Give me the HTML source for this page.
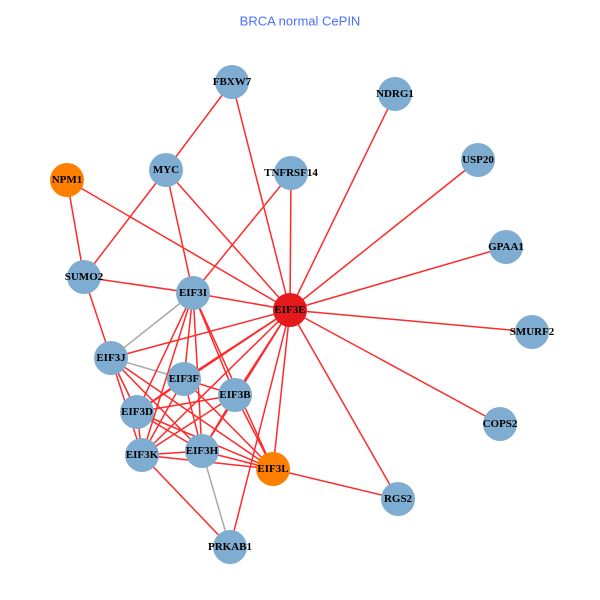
<!DOCTYPE html>
<html><head><meta charset="utf-8"><style>
html,body{margin:0;padding:0;background:#fff;}
svg{display:block}
text{font-family:"Liberation Serif",serif;font-weight:bold;font-size:11px;fill:#000;text-anchor:middle;dominant-baseline:central}
.r line{stroke:#ff2a2a;stroke-width:1.5}
.g line{stroke:#a8a8a8;stroke-width:1.5}
</style></head><body>
<svg width="600" height="600" viewBox="0 0 600 600">
<text x="300" y="21" style="font-family:'Liberation Sans',sans-serif;font-weight:normal;font-size:13px;fill:#4a6fff">BRCA normal CePIN</text>
<g class="g">
<line x1="193" y1="293" x2="111" y2="358"/>
<line x1="111" y1="358" x2="184" y2="379"/>
<line x1="111" y1="358" x2="137" y2="412"/>
<line x1="202" y1="451" x2="230" y2="547"/>
</g>
<g class="r">
<line x1="232" y1="82" x2="166" y2="170"/>
<line x1="232" y1="82" x2="290" y2="310"/>
<line x1="166" y1="170" x2="84" y2="277"/>
<line x1="166" y1="170" x2="193" y2="293"/>
<line x1="166" y1="170" x2="290" y2="310"/>
<line x1="67" y1="180" x2="84" y2="277"/>
<line x1="67" y1="180" x2="290" y2="310"/>
<line x1="291" y1="173" x2="193" y2="293"/>
<line x1="291" y1="173" x2="290" y2="310"/>
<line x1="84" y1="277" x2="193" y2="293"/>
<line x1="84" y1="277" x2="111" y2="358"/>
<line x1="193" y1="293" x2="290" y2="310"/>
<line x1="290" y1="310" x2="395" y2="94"/>
<line x1="290" y1="310" x2="478" y2="160"/>
<line x1="290" y1="310" x2="506" y2="247"/>
<line x1="290" y1="310" x2="532" y2="332"/>
<line x1="290" y1="310" x2="500" y2="424"/>
<line x1="290" y1="310" x2="398" y2="499"/>
<line x1="290" y1="310" x2="111" y2="358"/>
<line x1="290" y1="310" x2="184" y2="379"/>
<line x1="290" y1="310" x2="235" y2="395"/>
<line x1="290" y1="310" x2="137" y2="412"/>
<line x1="290" y1="310" x2="142" y2="455"/>
<line x1="290" y1="310" x2="202" y2="451"/>
<line x1="290" y1="310" x2="273" y2="469"/>
<line x1="290" y1="310" x2="230" y2="547"/>
<line x1="193" y1="293" x2="184" y2="379"/>
<line x1="193" y1="293" x2="235" y2="395"/>
<line x1="193" y1="293" x2="202" y2="451"/>
<line x1="193" y1="293" x2="137" y2="412"/>
<line x1="193" y1="293" x2="142" y2="455"/>
<line x1="193" y1="293" x2="273" y2="469"/>
<line x1="111" y1="358" x2="137" y2="412"/>
<line x1="111" y1="358" x2="142" y2="455"/>
<line x1="111" y1="358" x2="202" y2="451"/>
<line x1="111" y1="358" x2="273" y2="469"/>
<line x1="184" y1="379" x2="137" y2="412"/>
<line x1="184" y1="379" x2="142" y2="455"/>
<line x1="184" y1="379" x2="202" y2="451"/>
<line x1="184" y1="379" x2="235" y2="395"/>
<line x1="184" y1="379" x2="273" y2="469"/>
<line x1="235" y1="395" x2="137" y2="412"/>
<line x1="235" y1="395" x2="142" y2="455"/>
<line x1="235" y1="395" x2="202" y2="451"/>
<line x1="235" y1="395" x2="273" y2="469"/>
<line x1="137" y1="412" x2="142" y2="455"/>
<line x1="137" y1="412" x2="202" y2="451"/>
<line x1="137" y1="412" x2="273" y2="469"/>
<line x1="142" y1="455" x2="202" y2="451"/>
<line x1="142" y1="455" x2="273" y2="469"/>
<line x1="142" y1="455" x2="230" y2="547"/>
<line x1="202" y1="451" x2="273" y2="469"/>
<line x1="273" y1="469" x2="398" y2="499"/>
</g>
<g fill="#7fadd1">
<circle cx="232" cy="82" r="17"/><circle cx="395" cy="94" r="17"/><circle cx="166" cy="170" r="17"/>
<circle cx="291" cy="173" r="17"/><circle cx="478" cy="160" r="17"/><circle cx="506" cy="247" r="17"/>
<circle cx="84" cy="277" r="17"/><circle cx="193" cy="293" r="17"/><circle cx="532" cy="332" r="17"/>
<circle cx="111" cy="358" r="17"/><circle cx="184" cy="379" r="17"/><circle cx="235" cy="395" r="17"/>
<circle cx="137" cy="412" r="17"/><circle cx="500" cy="424" r="17"/><circle cx="142" cy="455" r="17"/>
<circle cx="202" cy="451" r="17"/><circle cx="398" cy="499" r="17"/><circle cx="230" cy="547" r="17"/>
</g>
<circle cx="67" cy="180" r="17" fill="#ff7f00"/>
<circle cx="273" cy="469" r="17" fill="#ff7f00"/>
<circle cx="290" cy="310" r="17" fill="#e41a1c"/>
<text x="232" y="82">FBXW7</text><text x="395" y="94">NDRG1</text><text x="166" y="170">MYC</text>
<text x="67" y="180">NPM1</text><text x="291" y="173">TNFRSF14</text><text x="478" y="160">USP20</text>
<text x="506" y="247">GPAA1</text><text x="84" y="277">SUMO2</text><text x="193" y="293">EIF3I</text>
<text x="290" y="310">EIF3E</text><text x="532" y="332">SMURF2</text><text x="111" y="358">EIF3J</text>
<text x="184" y="379">EIF3F</text><text x="235" y="395">EIF3B</text><text x="137" y="412">EIF3D</text>
<text x="500" y="424">COPS2</text><text x="142" y="455">EIF3K</text><text x="202" y="451">EIF3H</text>
<text x="273" y="469">EIF3L</text><text x="398" y="499">RGS2</text><text x="230" y="547">PRKAB1</text>
</svg>
</body></html>
